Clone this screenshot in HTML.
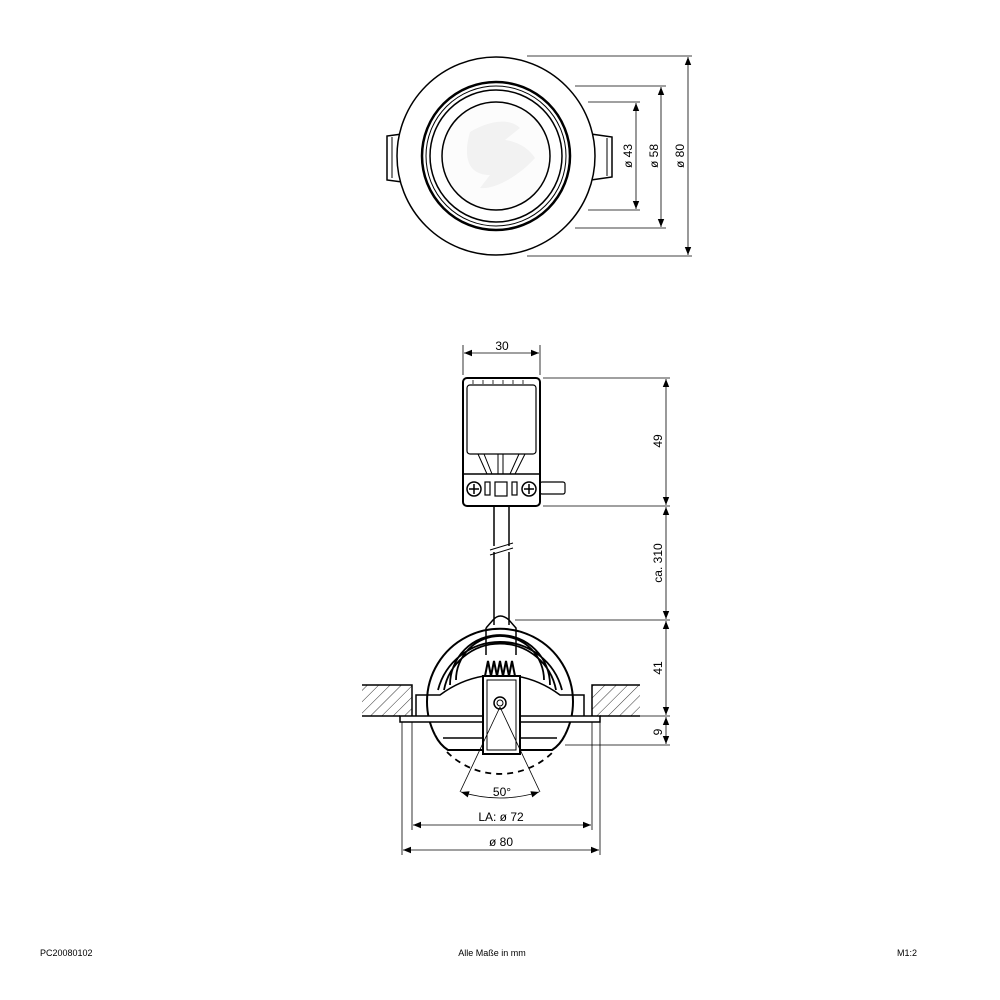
<!DOCTYPE html>
<html><head><meta charset="utf-8"><style>
body{margin:0;background:#fff}
svg{display:block;font-family:"Liberation Sans",sans-serif}
</style></head><body>
<svg width="1000" height="1000" viewBox="0 0 1000 1000">
<defs>
<marker id="a" viewBox="0 0 10 10" refX="10" refY="5" markerWidth="12" markerHeight="8" markerUnits="userSpaceOnUse" orient="auto-start-reverse"><path d="M0,1 L10,5 L0,9 z" fill="#000"/></marker>
<pattern id="h" width="8" height="8" patternUnits="userSpaceOnUse" patternTransform="rotate(45)"><line x1="0" y1="0" x2="0" y2="8" stroke="#000" stroke-width="0.8"/></pattern>
</defs>
<g fill="none" stroke="#000">
<path d="M402,134 L387,136 L387,180 L402,182" stroke-width="1.5"/>
<path d="M392,137 L392,178" stroke-width="1"/>
<path d="M591,134 L612,137 L612,177 L591,180" stroke-width="1.5"/>
<path d="M607,138 L607,176" stroke-width="1"/>
<circle cx="496" cy="156" r="99" fill="#fff" stroke-width="1.5"/>
<circle cx="496" cy="156" r="74" stroke-width="2.5"/>
<circle cx="496" cy="156" r="70" stroke-width="1"/>
<circle cx="496" cy="156" r="66" stroke-width="1.5"/>
<circle cx="496" cy="156" r="54" fill="#fcfcfc" stroke-width="1.5"/>
<path d="M470,132 C490,120 510,118 520,128 L505,140 C520,142 530,150 535,158 C520,175 495,190 480,188 L490,175 C470,175 462,160 470,132 z" fill="#f2f2f2" stroke="none"/>
<g stroke-width="0.8">
<line x1="527" y1="56" x2="692" y2="56"/><line x1="527" y1="256" x2="692" y2="256"/>
<line x1="575" y1="86" x2="666" y2="86"/><line x1="575" y1="228" x2="666" y2="228"/>
<line x1="588" y1="102" x2="640" y2="102"/><line x1="588" y1="210" x2="640" y2="210"/>
<line x1="688" y1="57" x2="688" y2="255" marker-start="url(#a)" marker-end="url(#a)"/>
<line x1="661" y1="87" x2="661" y2="227" marker-start="url(#a)" marker-end="url(#a)"/>
<line x1="636" y1="103" x2="636" y2="209" marker-start="url(#a)" marker-end="url(#a)"/>
</g>
<rect x="463" y="378" width="77" height="128" rx="4" stroke-width="2"/>
<rect x="467" y="385" width="69" height="69" rx="3" stroke-width="1.2"/>
<path d="M473,380 v4 M483,380 v4 M493,380 v4 M503,380 v4 M513,380 v4 M523,380 v4" stroke-width="0.8"/>
<line x1="463" y1="474" x2="540" y2="474" stroke-width="1.5"/>
<path d="M478,454 L487,474 M484,454 L492,474 M498,454 v20 M503,454 v20 M525,454 L515,474 M519,454 L510,474" stroke-width="1"/>
<circle cx="474" cy="489" r="7" stroke-width="1.5"/><path d="M469,489 h10 M474,484 v10" stroke-width="1.5"/>
<circle cx="529" cy="489" r="7" stroke-width="1.5"/><path d="M524,489 h10 M529,484 v10" stroke-width="1.5"/>
<rect x="485" y="482" width="5" height="13" stroke-width="1.2"/>
<rect x="495" y="482" width="12" height="14" stroke-width="1.2"/>
<rect x="512" y="482" width="5" height="13" stroke-width="1.2"/>
<rect x="540" y="482" width="25" height="12" rx="2" stroke-width="1.2"/>
<path d="M494,506 V546 M509,506 V546 M494,552 V625 M509,552 V625" stroke-width="1.5"/>
<path d="M490,550 L513,543 M490,555 L513,548" stroke-width="1"/>
<g stroke-width="0.8">
<line x1="463" y1="345" x2="463" y2="375"/><line x1="540" y1="345" x2="540" y2="375"/>
<line x1="464" y1="353" x2="539" y2="353" marker-start="url(#a)" marker-end="url(#a)"/>
<line x1="543" y1="378" x2="670" y2="378"/><line x1="543" y1="506" x2="670" y2="506"/>
<line x1="515" y1="620" x2="670" y2="620"/><line x1="610" y1="716" x2="670" y2="716"/>
<line x1="565" y1="745" x2="670" y2="745"/>
<line x1="666" y1="379" x2="666" y2="505" marker-start="url(#a)" marker-end="url(#a)"/>
<line x1="666" y1="507" x2="666" y2="619" marker-start="url(#a)" marker-end="url(#a)"/>
<line x1="666" y1="621" x2="666" y2="715" marker-start="url(#a)" marker-end="url(#a)"/>
<line x1="666" y1="717" x2="666" y2="744" marker-start="url(#a)" marker-end="url(#a)"/>
</g>
<rect x="362" y="685" width="50" height="31" fill="url(#h)" stroke="none"/>
<rect x="592" y="685" width="48" height="31" fill="url(#h)" stroke="none"/>
<path d="M362,685 H412 V716 M640,685 H592 V716 M362,716 H400 M600,716 H640" stroke-width="1.5"/>
<path d="M435,735 A73,73 0 1 1 565,735" stroke-width="2"/>
<path d="M435,735 Q440,745 448,750 L552,750 Q560,745 565,735" stroke-width="2"/>
<path d="M438,690 A64,64 0 0 1 562,690 M444,690 A57,57 0 0 1 556,690 M450,685 A50,50 0 0 1 550,685 M456,680 A44,44 0 0 1 544,680" stroke-width="1.8"/>
<path d="M416,716 V695 H440 Q460,680 484,676 M516,676 Q540,680 560,695 H584 V716" stroke-width="1.5"/>
<rect x="400" y="716" width="200" height="6" fill="#fff" stroke-width="1.5"/>
<line x1="443" y1="738" x2="557" y2="738" stroke-width="1.5"/>
<path d="M493,620 Q500,612 509,620 L516,628 V655 M486,628 L493,620 M486,628 V655" stroke-width="1.5"/>
<rect x="483" y="676" width="37" height="78" fill="#fff" stroke-width="2"/>
<rect x="487" y="680" width="29" height="70" stroke-width="1"/>
<path d="M485,676 l3,-15 l3,15 l3,-15 l3,15 l3,-15 l3,15 l3,-15 l3,15 l3,-15 l3,15" stroke-width="2"/>
<circle cx="500" cy="703" r="6" stroke-width="1.5"/><circle cx="500" cy="703" r="3" stroke-width="1"/>
<path d="M447,752 A75,75 0 0 0 553,752" stroke-width="1.8" stroke-dasharray="6,5"/>
<g stroke-width="0.8">
<line x1="500" y1="707" x2="460" y2="792"/><line x1="500" y1="707" x2="540" y2="792"/>
<path d="M461,792 Q500,804 539,792" marker-start="url(#a)" marker-end="url(#a)"/>
<line x1="402" y1="722" x2="402" y2="855"/><line x1="600" y1="722" x2="600" y2="855"/>
<line x1="412" y1="722" x2="412" y2="830"/><line x1="592" y1="722" x2="592" y2="830"/>
<line x1="413" y1="825" x2="591" y2="825" marker-start="url(#a)" marker-end="url(#a)"/>
<line x1="403" y1="850" x2="599" y2="850" marker-start="url(#a)" marker-end="url(#a)"/>
</g>
</g>
<g font-size="12" fill="#000" text-anchor="middle">
<text transform="translate(632,156) rotate(-90)">ø 43</text>
<text transform="translate(658,156) rotate(-90)">ø 58</text>
<text transform="translate(684,156) rotate(-90)">ø 80</text>
<text x="502" y="350">30</text>
<text transform="translate(662,441) rotate(-90)">49</text>
<text transform="translate(662,563) rotate(-90)">ca. 310</text>
<text transform="translate(662,668) rotate(-90)">41</text>
<text transform="translate(662,732) rotate(-90)">9</text>
<text x="502" y="796">50°</text>
<text x="501" y="821">LA: ø 72</text>
<text x="501" y="846">ø 80</text>
</g>
<g font-size="9" fill="#000">
<text x="40" y="956">PC20080102</text>
<text x="492" y="956" text-anchor="middle">Alle Maße in mm</text>
<text x="897" y="956">M1:2</text>
</g>
</svg>
</body></html>
